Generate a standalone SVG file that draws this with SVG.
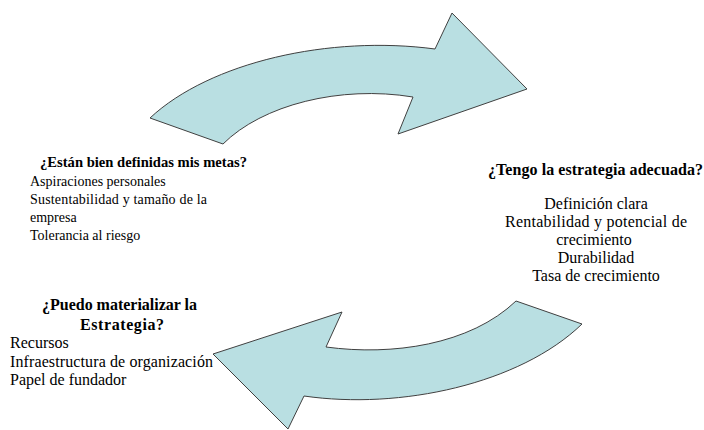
<svg xmlns="http://www.w3.org/2000/svg" width="704" height="430" viewBox="0 0 704 430">
<style>
.arrow{fill:#b9dfe2;stroke:#404040;stroke-width:1;stroke-linejoin:miter}
text{font-family:"Liberation Serif","Times New Roman",serif;font-size:16px;fill:#000}
.h{font-weight:bold}
.s{font-size:14px}
.hs{font-size:14.6px}
.c{text-anchor:middle}
</style>
<rect width="704" height="430" fill="#fff"/>
<g id="connectors">
<path id="arrow-top" class="arrow" d="M150,118 C210,62 330,35 435,49 L452,13 L527,89 L398,134 L413,97 C340,85 262,105 223,144 Z"/>
<path id="arrow-bottom" class="arrow" d="M516,301 C470,345 392,356 326,347 L342,312 L213,354 L288,429 L304,396 C400,410 520,384 582,324 Z"/>
</g>
<g id="node-metas">
<text class="h hs" x="40" y="167" textLength="207" lengthAdjust="spacing">¿Están bien definidas mis metas?</text>
<text class="s" x="30" y="186">Aspiraciones personales</text>
<text class="s" x="30" y="204" textLength="177" lengthAdjust="spacing">Sustentabilidad y tamaño de la</text>
<text class="s" x="30" y="222">empresa</text>
<text class="s" x="30" y="240">Tolerancia al riesgo</text>
</g>
<g id="node-estrategia">
<text class="h" x="488" y="175" textLength="215" lengthAdjust="spacing">¿Tengo la estrategia adecuada?</text>
<text class="c" x="596" y="209">Definición clara</text>
<text x="505" y="227" textLength="182" lengthAdjust="spacing">Rentabilidad y potencial de</text>
<text class="c" x="594" y="245">crecimiento</text>
<text class="c" x="596" y="263">Durabilidad</text>
<text class="c" x="596" y="281">Tasa de crecimiento</text>
</g>
<g id="node-materializar">
<text class="h" x="42" y="310" textLength="155" lengthAdjust="spacing">¿Puedo materializar la</text>
<text class="h" x="80" y="330" textLength="84" lengthAdjust="spacing">Estrategia?</text>
<text x="10" y="348">Recursos</text>
<text x="10" y="367" textLength="203" lengthAdjust="spacing">Infraestructura de organización</text>
<text x="10" y="385">Papel de fundador</text>
</g>
</svg>
